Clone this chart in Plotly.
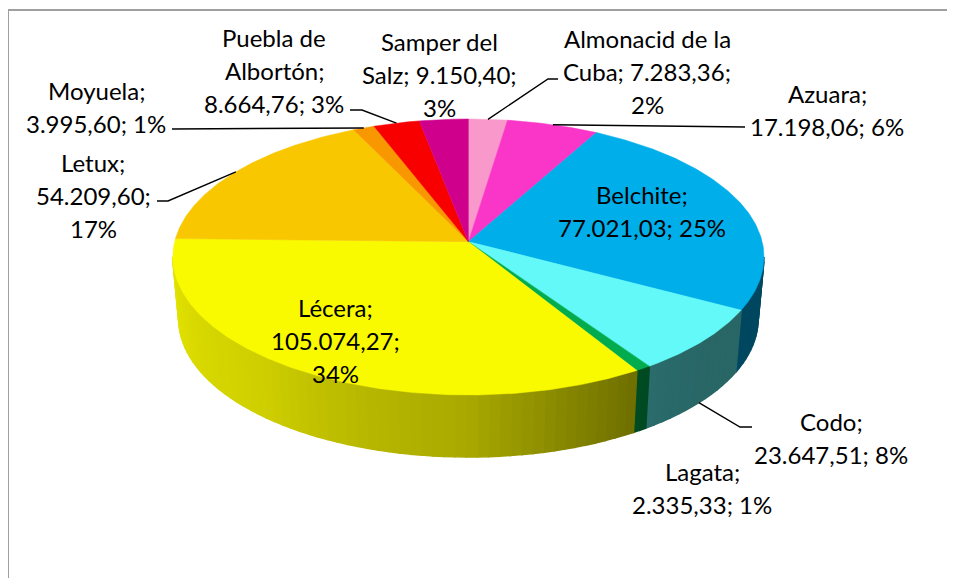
import numpy as np
import plotly.graph_objects as go

# ---------------- data ----------------
categories = ["Almonacid de la Cuba", "Azuara", "Belchite", "Codo", "Lagata",
              "Lécera", "Letux", "Moyuela", "Puebla de Albortón", "Samper del Salz"]
values = [7283.36, 17198.06, 77021.03, 23647.51, 2335.33,
          105074.27, 54209.60, 3995.60, 8664.76, 9150.40]
percent_labels = [2, 6, 25, 8, 1, 34, 17, 1, 3, 3]
colors = ["#FF9CD0", "#FF37CC", "#00B2F0", "#66FFFF", "#00B050",
          "#FFFF00", "#FFCC00", "#FF9B00", "#FF0000", "#D4008F"]

# ---------------- layout of the drawing (screen pixels) ----------------
W, H = 955, 578
OFF = 8                 # page body margin
CX, CY, RX, RY = 468.4, 257.0, 295.6, 138.0
TANH = 0.111            # perspective shift of pie centre
DEPTH = 62.0
KB = 0.98               # bottom rim shrink
LINE = 33.0
FONT = "Lato"
FSIZE = 24

# side shading vs. angle (deg) of the wall normal
SHADE_ANG = [150, 180, 230, 248, 270, 288, 303, 320, 400]
SHADE_F = [0.90, 0.90, 0.81, 0.73, 0.66, 0.52, 0.42, 0.40, 0.40]

# label layout: x centre, first line centre y, words per line, leader anchor points
label_layout = [
    dict(x=647, y=38, wrap=[3, 2, 1], leader=[(558, 79), (548, 79)]),
    dict(x=827, y=93, wrap=[1, 2], leader=[(745, 127)]),
    dict(x=642, y=194, wrap=[1, 2], leader=None),
    dict(x=831, y=421, wrap=[1, 2], leader=[(752, 427), (740, 427)]),
    dict(x=702, y=471, wrap=[1, 2], leader=None),
    dict(x=335, y=307, wrap=[1, 1, 1], leader=None),
    dict(x=93, y=162, wrap=[1, 1, 1], leader=[(157, 201), (168, 201)]),
    dict(x=96, y=90, wrap=[1, 2], leader=[(172, 129)]),
    dict(x=274, y=37, wrap=[2, 1, 2], leader=[(350, 110), (362, 110)]),
    dict(x=439, y=41, wrap=[2, 2, 1], leader=None),
]

CH = 1.0 / np.sqrt(1 - TANH ** 2)
SH = TANH * CH


def proj(theta, bottom=False):
    theta = np.asarray(theta, dtype=float)
    x, y = np.cos(theta), np.sin(theta)
    w = y * SH + CH
    xs = x / w
    ys = (y * CH + SH) / w
    X = CX + RX * xs
    Y = CY - RY * ys
    if bottom:
        X = CX + (X - CX) * KB
        Y = Y + DEPTH
    return X, Y


def hex_to_rgb(h):
    h = h.lstrip("#")
    return [int(h[i:i + 2], 16) for i in (0, 2, 4)]


def shade(hexcol, f):
    r, g, b = hex_to_rgb(hexcol)
    return "rgb(%d,%d,%d)" % (round(r * f), round(g * f), round(b * f))


def fmt(v):
    s = f"{v:,.2f}"
    return s.replace(",", "X").replace(".", ",").replace("X", ".")


total = float(sum(values))
cum = np.concatenate([[0.0], np.cumsum(values) / total])
theta_of = lambda f: np.pi / 2 - 2 * np.pi * f

# visible (front) part of the wall in true angle: sin(theta) <= -TANH
FRONT_LO = np.pi + np.arcsin(TANH)
FRONT_HI = 2 * np.pi - np.arcsin(TANH)

fig = go.Figure()

# ---------- side walls (front part) ----------
for i in range(len(values)):
    t0, t1 = theta_of(cum[i]), theta_of(cum[i + 1])   # t0 > t1
    for shift in (0.0, 2 * np.pi, -2 * np.pi):
        hi = min(t0 + shift, FRONT_HI)
        lo = max(t1 + shift, FRONT_LO)
        if hi <= lo:
            continue
        n = max(1, int(np.ceil((hi - lo) / np.radians(2.0))))
        ts = np.linspace(hi, lo, n + 1)
        for a, b in zip(ts[:-1], ts[1:]):
            mid = 0.5 * (a + b)
            xa, ya = proj(a)
            xb, yb = proj(b)
            xqb, yqb = proj(b, True)
            xqa, yqa = proj(a, True)
            deg = np.degrees(mid) % 360
            if deg < 90:
                deg += 360
            f = float(np.interp(deg, SHADE_ANG, SHADE_F))
            col = shade(colors[i], f)
            fig.add_trace(go.Scatter(
                x=[xa, xb, xqb, xqa, xa], y=[ya, yb, yqb, yqa, ya],
                mode="lines", fill="toself", fillcolor=col,
                line=dict(color=col, width=1.5), hoverinfo="skip", showlegend=False))

# ---------- top faces ----------
apx, apy = CX, CY - RY * TANH
for i in range(len(values)):
    t0, t1 = theta_of(cum[i]), theta_of(cum[i + 1])
    n = max(4, int(np.ceil(abs(t1 - t0) / np.radians(0.5))))
    ts = np.linspace(t0, t1, n + 1)
    X, Y = proj(ts)
    col = shade(colors[i], 0.975)
    fig.add_trace(go.Scatter(
        x=np.concatenate([[apx], X, [apx]]), y=np.concatenate([[apy], Y, [apy]]),
        mode="lines", fill="toself", fillcolor=col,
        line=dict(color=col, width=0.5), hoverinfo="skip", showlegend=False,
        name=categories[i]))

# ---------- labels and leader lines ----------
annotations = []
for i, cat in enumerate(categories):
    lay = label_layout[i]
    words = f"{cat}; {fmt(values[i])}; {percent_labels[i]}%".split(" ")
    k = 0
    for j, nw in enumerate(lay["wrap"]):
        line_txt = " ".join(words[k:k + nw])
        k += nw
        annotations.append(dict(
            x=lay["x"], y=lay["y"] + j * LINE, xref="x", yref="y",
            text=line_txt, showarrow=False, xanchor="center", yanchor="middle",
            font=dict(family=FONT, size=FSIZE, color="black")))
    if lay["leader"]:
        mid = theta_of(0.5 * (cum[i] + cum[i + 1]))
        px, py = proj(mid, bool(np.sin(mid) < 0))
        xs = [p[0] for p in lay["leader"]] + [float(px)]
        ys = [p[1] for p in lay["leader"]] + [float(py)]
        fig.add_trace(go.Scatter(x=xs, y=ys, mode="lines",
                                 line=dict(color="black", width=1.4),
                                 hoverinfo="skip", showlegend=False))

fig.update_layout(
    width=W, height=H, margin=dict(l=0, r=0, t=0, b=0),
    paper_bgcolor="white", plot_bgcolor="white",
    xaxis=dict(range=[OFF, W + OFF], visible=False, fixedrange=True),
    yaxis=dict(range=[H + OFF, OFF], visible=False, fixedrange=True),
    annotations=annotations,
    shapes=[dict(type="rect", xref="x", yref="y", x0=8, y0=10, x1=W + 40, y1=H + 40,
                 line=dict(color="#A0A0A0", width=2), fillcolor="rgba(0,0,0,0)",
                 layer="below")],
    showlegend=False,
)

fig.write_html("out.html")
